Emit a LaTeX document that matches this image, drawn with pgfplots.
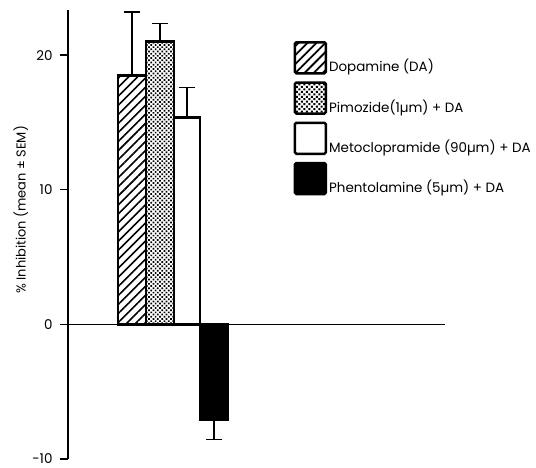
\documentclass[border=0pt]{standalone}
\usepackage{pgfplots}
\pgfplotsset{compat=1.18}
\usepackage{fontspec}
\setmainfont{Poppins}
\usetikzlibrary{patterns.meta}
\begin{document}
\begin{tikzpicture}[x=1bp,y=1bp]
\useasboundingbox (-68,-9) rectangle (468,459);
\begin{axis}[
  at={(0,0)}, anchor=south west,
  scale only axis, width=377bp, height=449bp,
  xmin=0, xmax=377, ymin=-10, ymax=23.35,
  clip=false,
  axis y line*=left, axis x line=none,
  ytick={-10,0,10,20},
  tick align=outside, major tick length=8bp,
  tick style={line width=1.2bp, black},
  axis line style={line width=1.2bp},
  tick label style={font=\fontsize{13.5}{15}\selectfont},
  yticklabel style={xshift=-4bp},
  /pgf/number format/assume math mode=true,
  ylabel={\% Inhibition (mean ± SEM)},
  ylabel style={at={(axis description cs:-0.125,0.555)}, anchor=center, font=\fontsize{13}{15}\selectfont},
  legend style={at={(axis description cs:0.59,0.935)}, anchor=north west, draw=none, fill=none,
    row sep=6bp, font=\fontsize{13.5}{15}\selectfont, cells={anchor=west}},
]
\addplot[line width=1.6bp, black, forget plot] coordinates {(0,0) (377,0)};
\addplot[ybar, bar shift=0pt, bar width=28, draw=black, line width=2.5bp,
  pattern={Lines[angle=45,distance=6.4bp,line width=1.6bp]},
  legend image code/.code={\draw[black,line width=2.5bp,rounded corners=1.5bp,pattern={Lines[angle=45,distance=6.4bp,line width=1.8bp]}] (0bp,-7bp) rectangle (31bp,24bp);},
  error bars/.cd, y dir=plus, y explicit,
  error bar style={line width=1.2bp, solid, black},
  error mark options={rotate=90, line width=1.2bp, mark size=8.3bp, black}] coordinates {(64,18.5) +- (0,4.7)};
\addlegendentry{Dopamine (DA)}
\addplot[ybar, bar shift=0pt, bar width=28, draw=black, line width=2.5bp,
  pattern={Dots[angle=45,distance=3.1bp,radius=1.2bp]},
  legend image code/.code={\draw[black,line width=2.5bp,rounded corners=1.5bp,pattern={Dots[angle=45,distance=3.5bp,radius=1.4bp]}] (0bp,-7bp) rectangle (31bp,24bp);},
  error bars/.cd, y dir=plus, y explicit,
  error bar style={line width=1.2bp, solid, black},
  error mark options={rotate=90, line width=1.2bp, mark size=8.3bp, black}] coordinates {(92,21.0) +- (0,1.35)};
\addlegendentry{Pimozide(1µm) + DA}
\addplot[ybar, bar shift=0pt, bar width=26, draw=black, fill=white, line width=2.5bp,
  legend image code/.code={\draw[black,fill=white,line width=2.5bp,rounded corners=1.5bp] (0bp,-7bp) rectangle (31bp,24bp);},
  error bars/.cd, y dir=plus, y explicit,
  error bar style={line width=1.2bp, solid, black},
  error mark options={rotate=90, line width=1.2bp, mark size=8.3bp, black}] coordinates {(119,15.35) +- (0,2.25)};
\addlegendentry{Metoclopramide (90µm) + DA}
\addplot[ybar, bar shift=0pt, bar width=28, draw=black, fill=black, line width=2.5bp,
  legend image code/.code={\draw[black,fill=black,line width=2.5bp,rounded corners=1.5bp] (0bp,-7bp) rectangle (31bp,24bp);},
  error bars/.cd, y dir=minus, y explicit,
  error bar style={line width=1.2bp, solid, black},
  error mark options={rotate=90, line width=1.2bp, mark size=8.3bp, black}] coordinates {(146,-7.05) +- (0,1.5)};
\addlegendentry{Phentolamine (5µm) + DA}
\end{axis}
\end{tikzpicture}
\end{document}
